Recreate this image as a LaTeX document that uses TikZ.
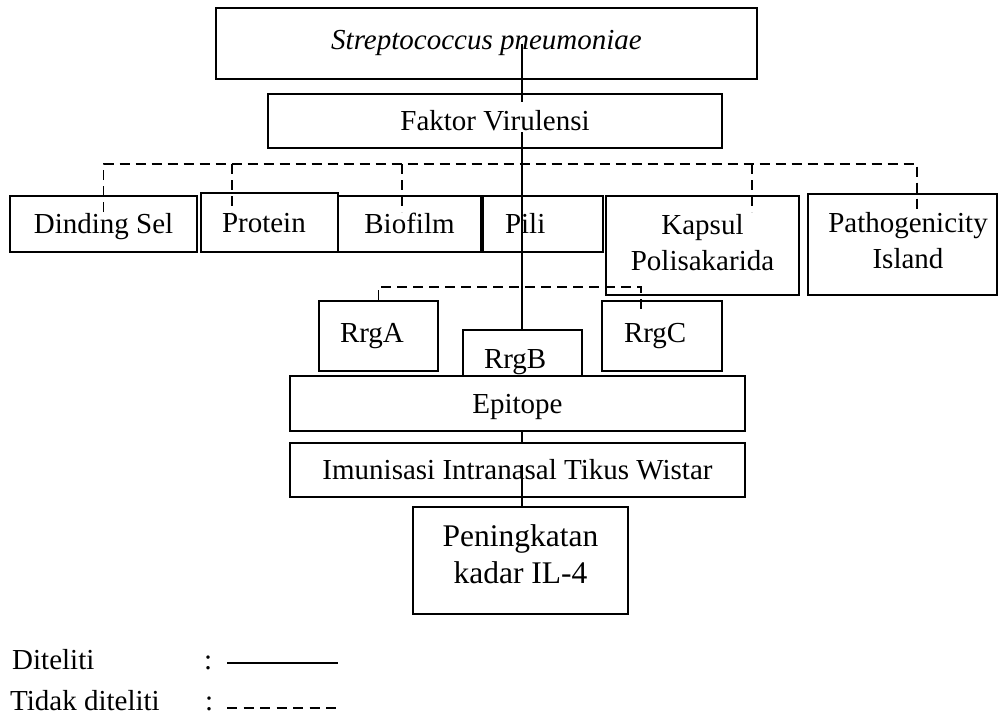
\documentclass[tikz,border=0pt]{standalone}
\usepackage{fontspec}
\setmainfont{Liberation Serif}
\begin{document}
\begin{tikzpicture}[x=1pt,y=-1pt,
  every node/.style={font=\fontsize{29}{35.5}\selectfont},
  box/.style={draw, line width=1.6pt, inner sep=0pt, text height=19.5pt, text depth=0pt, anchor=center},
  lbox/.style={box, align=left},
  conn/.style={line width=1.3pt},
  dsh/.style={line width=1.8pt, dash pattern=on 10pt off 6pt},
  leg/.style={anchor=base west, inner sep=0pt}]
\useasboundingbox (0,0) rectangle (998,726);
% boxes
\node[box, minimum width=541pt, minimum height=71pt, text depth=8.5pt] (sp) at (486.5,43.5) {\itshape Streptococcus pneumoniae};
\node[box, minimum width=454pt, minimum height=54pt] (fv) at (495,121) {Faktor Virulensi};
\node[box, minimum width=187pt, minimum height=56pt] (din) at (103.5,224) {Dinding Sel};
\node[lbox, inner xsep=21pt, text width=95pt, minimum height=59pt] (pro) at (269.5,222.5) {Protein};
\node[box, minimum width=143pt, minimum height=56pt] (bio) at (409.5,224) {Biofilm};
\node[lbox, inner xsep=22pt, text width=76pt, minimum height=56pt] (pil) at (543,224) {Pili};
\node[box, align=center, minimum width=193pt, minimum height=99pt, text height=49pt] (kap) at (702.5,245.5) {Kapsul\\Polisakarida};
\node[box, align=center, minimum width=189pt, minimum height=101pt, text height=47pt] (pat) at (902.5,244.5) {\hspace*{11pt}Pathogenicity\\\hspace*{11pt}Island};
\node[lbox, inner xsep=21pt, text width=77pt, minimum height=70pt, text depth=7.5pt] (rrga) at (378.5,336) {RrgA};
\node[lbox, inner xsep=21pt, text width=77pt, minimum height=46pt, text height=30pt] (rrgb) at (522.5,353) {RrgB};
\node[lbox, inner xsep=22pt, text width=76pt, minimum height=70pt, text depth=7.5pt] (rrgc) at (662,336) {RrgC};
\node[box, minimum width=455pt, minimum height=55pt] (epi) at (517.5,403.5) {Epitope};
\node[box, minimum width=455pt, minimum height=54pt] (imu) at (517.5,470) {Imunisasi Intranasal Tikus Wistar};
\node[box, align=center, font=\fontsize{31.5}{36.5}\selectfont, minimum width=215pt, minimum height=107pt, text height=45pt] (pen) at (520.5,560.5) {Peningkatan\\kadar IL-4};
% solid spine
\coordinate (spine) at (522,0);
\draw[conn] (spine |- sp.center) -- ([yshift=-9pt]spine |- fv.north);
\draw[conn] ([yshift=-11pt]spine |- fv.center) -- (spine |- rrgb.north);
\draw[conn] (spine |- epi.south) -- (spine |- imu.north);
\draw[conn] ([yshift=5pt]spine |- imu.center) -- (spine |- pen.north);
% dashed bus (top)
\coordinate (busL) at (103.5,164);
\coordinate (busR) at (917,164);
\coordinate (stubs) at (0,212);
\coordinate (bpro) at (232,164);
\coordinate (bbio) at (402,164);
\coordinate (bkap) at (752,164);
\draw[dsh] (din.north |- stubs) -- (busL) -- (busR) -- (busR |- stubs);
\draw[dsh] (bpro) -- (bpro |- stubs);
\draw[dsh] (bbio) -- (bbio |- stubs);
\draw[dsh] (bkap) -- (bkap |- stubs);
% dashed bus (Pili)
\coordinate (bus2R) at (641,287);
\draw[dsh] (rrga.north) |- (bus2R) -- ([yshift=-14pt]bus2R |- rrgc.north);
% legend
\node[leg] (d1) at (12,669) {Diteliti};
\node[leg] (c1) at (204,669) {:};
\node[leg] (d2) at (10,710) {Tidak diteliti};
\node[leg] (c2) at (205,710) {:};
\coordinate (s1) at (227,663);
\coordinate (e1) at (338,663);
\coordinate (s2) at (227,708);
\coordinate (e2) at (338,708);
\draw[line width=1.8pt] (s1) -- (e1);
\draw[line width=1.8pt, dash pattern=on 10pt off 6.5pt] (s2) -- (e2);
\end{tikzpicture}
\end{document}
